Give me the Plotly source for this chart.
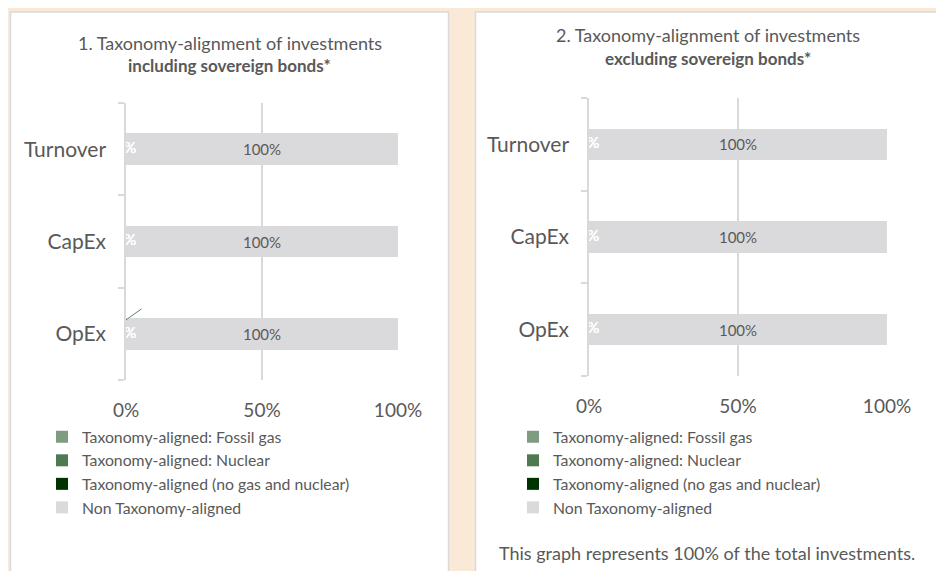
import plotly.graph_objects as go

# ---- data ----
categories = ["Turnover", "CapEx", "OpEx"]
series_names = [
    "Taxonomy-aligned: Fossil gas",
    "Taxonomy-aligned: Nuclear",
    "Taxonomy-aligned (no gas and nuclear)",
    "Non Taxonomy-aligned",
]
series_colors = ["#7F9C80", "#4E7A52", "#003300", "#DADADC"]

# chart 1: including sovereign bonds (percent)
incl_fossil = [0, 0, 0]
incl_nuclear = [0, 0, 0]
incl_aligned = [0, 0, 0]
incl_non = [100, 100, 100]

# chart 2: excluding sovereign bonds (percent)
excl_fossil = [0, 0, 0]
excl_nuclear = [0, 0, 0]
excl_aligned = [0, 0, 0]
excl_non = [100, 100, 100]

x_tick_vals = [0, 50, 100]
x_tick_text = ["0%", "50%", "100%"]

title1_line1 = "1. Taxonomy-alignment of investments"
title1_line2 = "including sovereign bonds*"
title2_line1 = "2. Taxonomy-alignment of investments"
title2_line2 = "excluding sovereign bonds*"
footer_text = "This graph represents 100% of the total investments."

# ---- styling ----
W, H = 944, 571
OFF = 8  # page offset of the figure inside the browser window
FONT = "Lato"
GRAY = "#595959"
GRID = "#D9D9D9"
PEACH = "#FBE9D8"


def px_x(p):
    return (p - OFF) / W


def px_y(p):
    return 1 - (p - OFF) / H


fig = go.Figure()

panels = [
    dict(data=[incl_fossil, incl_nuclear, incl_aligned, incl_non], xa="x", ya="y", legend="legend"),
    dict(data=[excl_fossil, excl_nuclear, excl_aligned, excl_non], xa="x2", ya="y2", legend="legend2"),
]

for pnl in panels:
    cum = [0.0] * len(categories)
    label_x, label_y, label_t = [], [], []
    for name, color, vals in zip(series_names, series_colors, pnl["data"]):
        is_non = name.startswith("Non")
        fig.add_trace(go.Bar(
            y=categories, x=vals, name=name, orientation="h",
            marker=dict(color=color, line=dict(width=0)),
            xaxis=pnl["xa"], yaxis=pnl["ya"], legend=pnl["legend"],
            legendgroup=pnl["legend"] + name,
            text=[f"{v:g}%" for v in vals] if is_non else None,
            textposition="inside" if is_non else "none",
            insidetextanchor="middle",
            textfont=dict(family=FONT, size=15, color=GRAY),
            hoverinfo="skip",
        ))
        if not is_non:
            for i, v in enumerate(vals):
                label_x.append(cum[i] + v / 2)
                label_y.append(categories[i])
                label_t.append(f"{v:g}%")
        cum = [c + v for c, v in zip(cum, vals)]
    # labels for zero-width segments (white, as in the source)
    fig.add_trace(go.Scatter(
        x=label_x, y=label_y, text=label_t, mode="text",
        textposition="middle center",
        textfont=dict(family=FONT, size=15, color="white"),
        xaxis=pnl["xa"], yaxis=pnl["ya"], showlegend=False, hoverinfo="skip",
    ))

# panel backgrounds
shapes = [
    dict(type="rect", xref="paper", yref="paper", x0=px_x(10.5), x1=px_x(448.5),
         y0=px_y(590), y1=px_y(12), fillcolor="white", line=dict(color=GRID, width=1.5), layer="below"),
    dict(type="rect", xref="paper", yref="paper", x0=px_x(475.5), x1=px_x(939.5),
         y0=px_y(590), y1=px_y(12), fillcolor="white", line=dict(color=GRID, width=1.5), layer="below"),
]

xaxis_common = dict(range=[0, 100], tickvals=x_tick_vals, ticktext=x_tick_text,
                    showgrid=True, gridcolor=GRID, gridwidth=1.5, zeroline=False,
                    showline=False, ticks="", fixedrange=True, automargin=False,
                    tickfont=dict(family=FONT, size=19, color=GRAY),
                    ticklabelstandoff=17)
yaxis_common = dict(type="category", categoryorder="array",
                    categoryarray=list(reversed(categories)),
                    showgrid=False, showline=True, linecolor=GRID, linewidth=1.5,
                    ticks="outside", tickson="boundaries", ticklen=6, tickcolor=GRID,
                    tickwidth=1.5, fixedrange=True, automargin=False,
                    tickfont=dict(family=FONT, size=21, color=GRAY),
                    ticklabelstandoff=14)

annotations = [
    dict(text=title1_line1, x=px_x(229.5), y=px_y(43), xref="paper", yref="paper",
         showarrow=False, xanchor="center", yanchor="middle",
         font=dict(family=FONT, size=18, color=GRAY)),
    dict(text=f"<b>{title1_line2}</b>", x=px_x(229.5), y=px_y(65), xref="paper", yref="paper",
         showarrow=False, xanchor="center", yanchor="middle",
         font=dict(family=FONT, size=17, color=GRAY)),
    dict(text=title2_line1, x=px_x(708), y=px_y(35), xref="paper", yref="paper",
         showarrow=False, xanchor="center", yanchor="middle",
         font=dict(family=FONT, size=18, color=GRAY)),
    dict(text=f"<b>{title2_line2}</b>", x=px_x(708), y=px_y(59), xref="paper", yref="paper",
         showarrow=False, xanchor="center", yanchor="middle",
         font=dict(family=FONT, size=17, color=GRAY)),
    dict(text=footer_text, x=px_x(706.5), y=px_y(553), xref="paper", yref="paper",
         showarrow=False, xanchor="center", yanchor="middle",
         font=dict(family=FONT, size=18, color=GRAY)),
    # leader line of the hidden label on OpEx (chart 1)
    dict(text="", x=incl_aligned[2], y=categories[2], xref="x", yref="y",
         yshift=14, ax=17, ay=-12, showarrow=True, arrowhead=0,
         arrowwidth=1, arrowcolor="#5E8560", standoff=0),
]

legend_common = dict(orientation="v", xanchor="left", yanchor="top",
                     bgcolor="rgba(0,0,0,0)", traceorder="grouped", tracegroupgap=0,
                     font=dict(family=FONT, size=15.8, color=GRAY), itemclick=False,
                     itemdoubleclick=False)

fig.update_layout(
    width=W, height=H, autosize=False,
    margin=dict(l=0, r=0, t=0, b=0, pad=0, autoexpand=False),
    paper_bgcolor=PEACH, plot_bgcolor="white",
    barmode="stack", bargap=0.66,
    showlegend=True,
    xaxis=dict(domain=[px_x(126), px_x(398)], anchor="y", **xaxis_common),
    yaxis=dict(domain=[px_y(380), px_y(103)], anchor="x", **yaxis_common),
    xaxis2=dict(domain=[px_x(589), px_x(887)], anchor="y2", **xaxis_common),
    yaxis2=dict(domain=[px_y(376), px_y(98)], anchor="x2", **yaxis_common),
    legend=dict(x=px_x(42), y=px_y(420), **legend_common),
    legend2=dict(x=px_x(513), y=px_y(420), **legend_common),
    shapes=shapes,
    annotations=annotations,
    font=dict(family=FONT, color=GRAY),
)

fig.write_html("out.html")
